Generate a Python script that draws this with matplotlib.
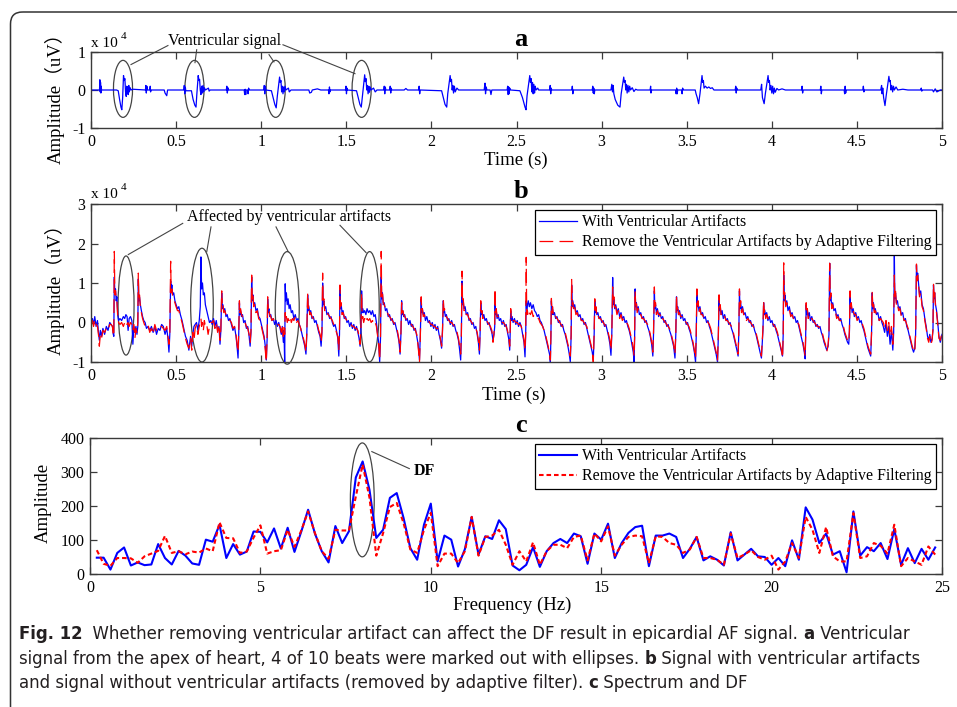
import matplotlib
matplotlib.use("Agg")
import matplotlib.pyplot as plt
from matplotlib.patches import Ellipse, FancyBboxPatch
from matplotlib import font_manager
from matplotlib.font_manager import FontProperties
import numpy as np

# ---------------------------------------------------------------- data
time_ticks = [0, 0.5, 1, 1.5, 2, 2.5, 3, 3.5, 4, 4.5, 5]
time_tick_labels = ["0", "0.5", "1", "1.5", "2", "2.5", "3", "3.5", "4", "4.5", "5"]
a_yticks = [-1, 0, 1]
a_ytick_labels = ["-1", "0", "1"]
b_yticks = [-1, 0, 1, 2, 3]
b_ytick_labels = ["-1", "0", "1", "2", "3"]
c_xticks = [0, 5, 10, 15, 20, 25]
c_yticks = [0, 100, 200, 300, 400]

# (a) ventricular signal from the apex (x 10^4 uV), polyline vertices (time s, value)
a_trace = [
    (0.000, 0.0), (0.050, 0.0), (0.052, 0.27), (0.054, -0.05), (0.056, 0.2), (0.058, -0.08), (0.060, 0.1), (0.062, 0.0),
    (0.150, 0.0), (0.160, -0.02), (0.168, -0.25), (0.176, -0.45), (0.181, -0.52), (0.186, -0.2), (0.191, 0.38),
    (0.195, 0.25), (0.199, 0.3), (0.203, -0.05), (0.207, -0.17), (0.210, 0.1), (0.213, -0.1), (0.216, 0.08),
    (0.219, -0.12), (0.222, 0.12), (0.225, -0.05), (0.230, 0.06), (0.235, 0.0), (0.245, 0.02),
    (0.320, 0.0), (0.322, 0.12), (0.325, -0.08), (0.328, 0.1), (0.332, 0.0), (0.345, 0.0), (0.348, 0.1),
    (0.350, -0.05), (0.353, 0.0), (0.430, 0.0), (0.435, -0.08), (0.445, -0.15), (0.450, 0.0),
    (0.545, 0.0), (0.548, 0.12), (0.551, -0.1), (0.554, 0.08), (0.557, -0.02), (0.590, -0.02), (0.600, -0.25),
    (0.610, -0.40), (0.617, -0.45), (0.622, -0.1), (0.630, 0.38), (0.634, 0.25), (0.638, 0.28), (0.642, 0.0),
    (0.646, -0.12), (0.650, 0.1), (0.654, -0.08), (0.658, 0.12), (0.662, -0.05), (0.666, 0.06), (0.672, 0.0),
    (0.690, 0.05), (0.694, -0.03), (0.700, 0.0), (0.795, 0.0), (0.798, 0.1), (0.801, -0.08), (0.804, 0.06),
    (0.807, 0.0), (0.900, 0.0), (0.903, -0.12), (0.906, 0.02), (0.909, -0.12), (0.912, 0.0), (0.920, 0.0),
    (0.923, -0.1), (0.926, 0.05), (0.930, 0.0), (1.015, 0.0), (1.018, 0.12), (1.021, -0.1), (1.024, 0.1),
    (1.027, 0.0), (1.060, -0.02), (1.070, -0.2), (1.080, -0.38), (1.088, -0.47), (1.095, -0.15), (1.108, 0.34),
    (1.112, 0.2), (1.116, 0.25), (1.120, -0.05), (1.124, 0.1), (1.128, -0.1), (1.132, 0.08), (1.136, -0.05),
    (1.140, 0.1), (1.145, 0.0), (1.160, 0.05), (1.165, -0.05), (1.175, 0.0), (1.280, 0.0), (1.285, -0.08),
    (1.295, -0.06), (1.300, 0.0), (1.330, 0.03), (1.350, 0.0), (1.395, 0.0), (1.398, -0.1), (1.401, 0.08),
    (1.404, -0.05), (1.407, 0.0), (1.495, 0.0), (1.498, 0.1), (1.501, -0.1), (1.504, 0.05), (1.507, 0.0),
    (1.560, -0.02), (1.570, -0.2), (1.580, -0.38), (1.588, -0.45), (1.596, -0.1), (1.608, 0.40), (1.612, 0.22),
    (1.616, 0.3), (1.620, 0.0), (1.624, 0.12), (1.628, -0.1), (1.632, 0.1), (1.636, -0.06), (1.640, 0.08),
    (1.645, 0.0), (1.660, 0.05), (1.670, -0.05), (1.680, 0.0), (1.720, 0.0), (1.723, 0.1), (1.726, -0.1),
    (1.729, 0.08), (1.732, 0.0), (1.755, 0.0), (1.758, 0.1), (1.761, -0.08), (1.764, 0.05), (1.767, 0.0),
    (1.840, 0.0), (1.850, 0.04), (1.860, 0.0), (1.925, 0.0), (1.928, 0.1), (1.931, -0.1), (1.934, 0.0),
    (2.060, -0.02), (2.070, -0.2), (2.080, -0.38), (2.090, -0.45), (2.096, -0.1), (2.110, 0.38), (2.114, 0.22),
    (2.118, 0.28), (2.122, 0.0), (2.126, 0.12), (2.130, -0.08), (2.135, 0.1), (2.140, -0.05), (2.150, 0.05),
    (2.160, 0.0), (2.310, 0.0), (2.315, 0.18), (2.318, -0.1), (2.322, 0.08), (2.326, 0.0), (2.345, 0.0),
    (2.350, -0.12), (2.355, 0.0), (2.445, 0.0), (2.448, 0.1), (2.451, -0.12), (2.454, 0.08), (2.457, -0.1),
    (2.460, 0.05), (2.465, 0.0), (2.520, -0.02), (2.535, -0.2), (2.550, -0.45), (2.556, -0.52), (2.562, -0.15),
    (2.578, 0.38), (2.582, 0.2), (2.586, 0.3), (2.590, -0.05), (2.594, 0.2), (2.598, -0.1), (2.602, 0.15),
    (2.606, -0.08), (2.610, 0.1), (2.615, 0.0), (2.625, 0.05), (2.630, 0.0), (2.695, 0.0), (2.698, 0.12),
    (2.701, -0.1), (2.704, 0.05), (2.707, 0.0), (2.825, 0.0), (2.828, 0.1), (2.831, -0.1), (2.834, 0.0),
    (2.945, 0.0), (2.948, 0.1), (2.951, -0.08), (2.954, 0.05), (2.957, -0.1), (2.960, 0.0), (3.055, 0.0),
    (3.060, 0.15), (3.064, -0.05), (3.068, 0.12), (3.072, -0.1), (3.080, -0.25), (3.095, -0.4), (3.108, -0.45),
    (3.115, -0.1), (3.130, 0.34), (3.134, 0.2), (3.138, 0.25), (3.142, 0.0), (3.146, 0.15), (3.150, -0.08),
    (3.155, 0.12), (3.160, -0.05), (3.165, 0.1), (3.170, 0.0), (3.180, 0.06), (3.190, -0.04), (3.200, 0.02),
    (3.210, 0.0), (3.285, 0.0), (3.288, 0.1), (3.290, -0.08), (3.294, 0.0), (3.435, 0.0), (3.438, -0.1),
    (3.441, 0.05), (3.444, -0.1), (3.447, 0.0), (3.470, 0.0), (3.473, -0.1), (3.476, 0.05), (3.480, 0.0),
    (3.550, 0.0), (3.555, -0.1), (3.562, -0.2), (3.570, -0.36), (3.578, -0.1), (3.590, 0.38), (3.594, 0.2),
    (3.598, 0.25), (3.602, 0.05), (3.610, 0.1), (3.620, 0.05), (3.630, 0.08), (3.640, 0.04), (3.650, 0.06),
    (3.660, 0.0), (3.700, 0.0), (3.785, 0.0), (3.788, 0.1), (3.791, -0.08), (3.794, 0.05), (3.797, 0.0),
    (3.935, 0.0), (3.940, 0.15), (3.945, -0.2), (3.955, -0.36), (3.962, -0.1), (3.978, 0.38), (3.982, 0.2),
    (3.986, 0.25), (3.990, 0.0), (3.995, 0.12), (4.000, -0.08), (4.005, 0.1), (4.010, -0.1), (4.015, 0.05),
    (4.020, -0.06), (4.030, 0.04), (4.040, 0.0), (4.060, 0.03), (4.080, 0.0), (4.175, 0.0), (4.178, 0.1),
    (4.181, -0.08), (4.184, 0.0), (4.285, 0.0), (4.288, 0.1), (4.291, -0.1), (4.294, 0.0), (4.425, 0.0),
    (4.428, -0.1), (4.431, 0.1), (4.434, -0.08), (4.437, 0.0), (4.535, 0.0), (4.538, 0.1), (4.541, -0.05),
    (4.544, 0.0), (4.640, 0.0), (4.645, 0.12), (4.648, -0.1), (4.652, 0.05), (4.657, -0.2), (4.665, -0.41),
    (4.672, -0.15), (4.688, 0.36), (4.692, 0.22), (4.696, 0.25), (4.700, 0.0), (4.705, 0.12), (4.710, -0.05),
    (4.715, 0.1), (4.720, 0.0), (4.730, 0.08), (4.740, 0.0), (4.770, 0.02), (4.800, 0.0), (4.875, 0.0),
    (4.878, 0.05), (4.881, -0.03), (4.885, 0.0), (4.945, 0.0), (4.950, -0.05), (4.960, 0.03), (4.970, -0.05),
    (4.990, 0.0), (5.000, 0.0),
]

# (b) sample times (s) shared by both traces, one line per activation
b_time = [
    0.000, 0.008, 0.015, 0.022, 0.030, 0.038, 0.045, 0.049, 0.055, 0.062, 0.070, 0.080, 0.090, 0.100, 0.110, 0.118, 0.126, 0.131,
    0.134, 0.137, 0.140, 0.144, 0.148, 0.152, 0.157, 0.162,
    0.170, 0.180, 0.190, 0.198, 0.205, 0.212, 0.218, 0.224, 0.232, 0.240, 0.246, 0.252, 0.258, 0.264, 0.270, 0.275,
    0.278, 0.281, 0.285, 0.290, 0.296, 0.303, 0.310, 0.318, 0.326, 0.335, 0.345, 0.355, 0.365, 0.375, 0.385, 0.395, 0.405, 0.415, 0.425, 0.435, 0.445, 0.452, 0.458, 0.463,
    0.468, 0.471, 0.475, 0.480, 0.486, 0.493, 0.500, 0.508, 0.516, 0.525, 0.535, 0.545, 0.555, 0.565, 0.575, 0.585, 0.592,
    0.598, 0.605, 0.612, 0.620, 0.628, 0.636, 0.642, 0.646, 0.650, 0.655, 0.660, 0.666, 0.672, 0.680, 0.688, 0.696, 0.704,
    0.712, 0.720, 0.728, 0.736, 0.744, 0.752, 0.758, 0.763,
    0.768, 0.771, 0.775, 0.780, 0.786, 0.793, 0.800, 0.808, 0.816, 0.825, 0.834, 0.843, 0.852, 0.858, 0.864, 0.868,
    0.872, 0.875, 0.879, 0.884, 0.890, 0.897, 0.905, 0.913, 0.921, 0.929, 0.935, 0.940,
    0.944, 0.947, 0.951, 0.956, 0.962, 0.969, 0.977, 0.985, 0.993, 1.001, 1.009, 1.017, 1.024, 1.030, 1.035,
    1.038, 1.041, 1.045, 1.050, 1.056, 1.063, 1.071, 1.079, 1.087, 1.095, 1.103, 1.111, 1.118, 1.124, 1.130, 1.134,
    1.138, 1.141, 1.144, 1.148, 1.153, 1.158, 1.164, 1.170, 1.177, 1.184, 1.192, 1.200, 1.208, 1.216, 1.224, 1.232, 1.240, 1.248, 1.256, 1.263, 1.268,
    1.273, 1.276, 1.280, 1.285, 1.291, 1.298, 1.306, 1.314, 1.322, 1.330, 1.338, 1.346, 1.352, 1.357,
    1.361, 1.364, 1.368, 1.373, 1.379, 1.386, 1.394, 1.402, 1.410, 1.418, 1.426, 1.434, 1.442, 1.450, 1.456, 1.460,
    1.463, 1.466, 1.470, 1.475, 1.481, 1.488, 1.496, 1.504, 1.512, 1.520, 1.528, 1.536, 1.544, 1.552, 1.560, 1.568, 1.575, 1.581, 1.586,
    1.590, 1.593, 1.597, 1.602, 1.608, 1.615, 1.622, 1.630, 1.638, 1.646, 1.654, 1.662, 1.670, 1.677, 1.684, 1.690, 1.696, 1.701,
    1.705, 1.708, 1.712, 1.717, 1.723, 1.730, 1.738, 1.746, 1.754, 1.762, 1.770, 1.778, 1.786, 1.794, 1.802, 1.810, 1.816, 1.821,
    1.825, 1.828, 1.832, 1.837, 1.843, 1.850, 1.858, 1.866, 1.874, 1.882, 1.890, 1.898, 1.906, 1.914, 1.922, 1.930, 1.935,
    1.940, 1.943, 1.947, 1.952, 1.958, 1.965, 1.973, 1.981, 1.989, 1.997, 2.005, 2.013, 2.021, 2.029, 2.037, 2.045, 2.053, 2.060, 2.065,
    2.070, 2.073, 2.077, 2.082, 2.088, 2.095, 2.103, 2.111, 2.119, 2.127, 2.135, 2.143, 2.151, 2.159, 2.166, 2.172, 2.176,
    2.180, 2.183, 2.187, 2.192, 2.198, 2.205, 2.213, 2.221, 2.229, 2.237, 2.245, 2.253, 2.261, 2.269, 2.276, 2.282, 2.286,
    2.290, 2.293, 2.297, 2.302, 2.308, 2.315, 2.323, 2.331, 2.339, 2.347, 2.355, 2.362, 2.368, 2.372,
    2.374, 2.377, 2.381, 2.386, 2.392, 2.399, 2.407, 2.415, 2.423, 2.431, 2.439, 2.447, 2.454, 2.460, 2.463,
    2.466, 2.469, 2.474, 2.480, 2.488, 2.496, 2.504, 2.512, 2.520, 2.528, 2.536, 2.544, 2.550, 2.554,
    2.557, 2.560, 2.564, 2.569, 2.575, 2.582, 2.590, 2.598, 2.606, 2.614, 2.622, 2.630, 2.638, 2.646, 2.654, 2.662, 2.670, 2.678, 2.686, 2.694, 2.699, 2.702,
    2.705, 2.708, 2.712, 2.717, 2.723, 2.730, 2.738, 2.746, 2.754, 2.762, 2.770, 2.778, 2.786, 2.794, 2.802, 2.810, 2.816, 2.821,
    2.824, 2.827, 2.831, 2.836, 2.842, 2.849, 2.857, 2.865, 2.873, 2.881, 2.889, 2.897, 2.905, 2.913, 2.921, 2.929, 2.937, 2.945, 2.951, 2.956,
    2.960, 2.963, 2.967, 2.972, 2.978, 2.985, 2.993, 3.001, 3.009, 3.017, 3.025, 3.033, 3.041, 3.049, 3.055, 3.060,
    3.065, 3.068, 3.072, 3.077, 3.083, 3.090, 3.098, 3.106, 3.114, 3.122, 3.130, 3.138, 3.146, 3.154, 3.162, 3.170, 3.178, 3.186, 3.191, 3.194,
    3.197, 3.200, 3.204, 3.209, 3.215, 3.222, 3.230, 3.238, 3.246, 3.254, 3.262, 3.270, 3.278, 3.286, 3.294, 3.301, 3.305,
    3.310, 3.313, 3.317, 3.322, 3.328, 3.335, 3.343, 3.351, 3.359, 3.367, 3.375, 3.383, 3.391, 3.399, 3.407, 3.415, 3.423, 3.431, 3.436,
    3.440, 3.443, 3.447, 3.452, 3.458, 3.465, 3.473, 3.481, 3.489, 3.497, 3.505, 3.513, 3.521, 3.529, 3.537, 3.545, 3.552, 3.556,
    3.560, 3.563, 3.567, 3.572, 3.578, 3.585, 3.593, 3.601, 3.609, 3.617, 3.625, 3.633, 3.641, 3.649, 3.657, 3.665, 3.673, 3.681, 3.686,
    3.690, 3.693, 3.697, 3.702, 3.708, 3.715, 3.723, 3.731, 3.739, 3.747, 3.755, 3.763, 3.771, 3.779, 3.787, 3.795, 3.802, 3.806,
    3.810, 3.813, 3.817, 3.822, 3.828, 3.835, 3.843, 3.851, 3.859, 3.867, 3.875, 3.883, 3.891, 3.899, 3.907, 3.915, 3.923, 3.931, 3.939, 3.945, 3.948,
    3.952, 3.955, 3.959, 3.964, 3.970, 3.977, 3.985, 3.993, 4.001, 4.009, 4.017, 4.025, 4.033, 4.041, 4.049, 4.057, 4.063, 4.067,
    4.070, 4.073, 4.077, 4.082, 4.088, 4.095, 4.103, 4.111, 4.119, 4.127, 4.135, 4.143, 4.151, 4.159, 4.167, 4.175, 4.183, 4.191, 4.196, 4.199,
    4.202, 4.205, 4.209, 4.214, 4.220, 4.227, 4.235, 4.243, 4.251, 4.259, 4.267, 4.275, 4.283, 4.291, 4.299, 4.307, 4.315, 4.323, 4.331, 4.336,
    4.340, 4.343, 4.347, 4.352, 4.358, 4.365, 4.373, 4.381, 4.389, 4.397, 4.405, 4.413, 4.421, 4.429, 4.437, 4.445, 4.452, 4.456,
    4.460, 4.463, 4.467, 4.472, 4.478, 4.485, 4.493, 4.501, 4.509, 4.517, 4.525, 4.533, 4.541, 4.549, 4.557, 4.565, 4.573, 4.581, 4.586,
    4.590, 4.593, 4.597, 4.602, 4.608, 4.615, 4.623, 4.631, 4.639, 4.647, 4.655, 4.663, 4.671, 4.679, 4.687, 4.695, 4.703, 4.711, 4.716,
    4.720, 4.723, 4.727, 4.732, 4.738, 4.745, 4.753, 4.761, 4.769, 4.777, 4.785, 4.793, 4.801, 4.809, 4.817, 4.825, 4.833, 4.840, 4.845,
    4.850, 4.853, 4.857, 4.862, 4.868, 4.875, 4.883, 4.891, 4.899, 4.907, 4.915, 4.922, 4.928, 4.935, 4.942, 4.947,
    4.950, 4.953, 4.957, 4.962, 4.968, 4.975, 4.982, 4.990, 5.000,
]

# (b) signal with ventricular artifacts (x 10^4 uV)
b_with = [
    -0.05, 0.10, -0.05, 0.15, -0.10, 0.05, -0.30, -0.45, -0.20, -0.35, -0.15, -0.30, -0.10, -0.20, 0.00, -0.05, -0.10, -0.30,
    -0.35, 1.15, 0.75, 0.85, 0.55, 0.65, 0.20, 0.05,
    0.10, 0.05, 0.15, 0.10, 0.20, 0.15, -0.20, 0.10, 0.15, 0.05, -0.55, -0.10, -0.25, -0.10, -0.30, -0.10,
    1.10, 0.55, 0.65, 0.45, 0.30, 0.15, 0.05, 0.00, -0.15, -0.10, -0.20, -0.10, -0.25, -0.10, -0.30, -0.15, -0.20, -0.05, -0.10, -0.30, -0.15, -0.40, -0.75, -0.30,
    1.05, 0.80, 0.95, 0.70, 0.75, 0.55, 0.45, 0.35, 0.40, 0.20, 0.05, -0.15, -0.35, -0.45, -0.70, -0.35, -0.60,
    -0.30, -0.10, -0.05, 0.00, -0.20, 0.05, 0.40, 1.66, 0.85, 1.00, 0.70, 0.75, 0.45, 0.30, 0.15, 0.00, 0.05,
    -0.05, 0.10, -0.10, 0.05, -0.20, -0.10, -0.55, -0.20,
    0.75, 0.35, 0.45, 0.30, 0.35, 0.15, 0.20, 0.05, 0.10, -0.05, -0.20, -0.10, -0.35, -0.60, -0.90, -0.30,
    0.50, 0.20, 0.30, 0.15, 0.20, 0.00, 0.05, -0.15, -0.10, -0.35, -0.60, -0.25,
    1.15, 0.55, 0.70, 0.45, 0.50, 0.30, 0.35, 0.15, 0.10, -0.05, -0.20, -0.35, -0.60, -0.95, -0.40,
    0.60, 0.25, 0.35, 0.15, 0.20, 0.05, 0.10, -0.05, 0.05, -0.10, 0.00, -0.15, -0.30, -0.10, -0.50, -0.20,
    -1.05, 0.98, 0.55, 0.75, 0.45, 0.60, 0.35, 0.45, 0.25, 0.30, 0.10, 0.20, 0.05, 0.10, -0.05, -0.15, -0.30, -0.45, -0.60, -0.80, -0.30,
    0.70, 0.30, 0.40, 0.25, 0.30, 0.10, 0.15, 0.00, 0.05, -0.10, -0.25, -0.35, -0.60, -0.25,
    1.00, 0.45, 0.55, 0.35, 0.40, 0.20, 0.25, 0.10, 0.15, 0.00, -0.10, -0.05, -0.20, -0.40, -0.85, -0.30,
    0.90, 0.35, 0.45, 0.25, 0.30, 0.10, 0.15, 0.00, 0.05, -0.10, 0.00, -0.15, -0.05, -0.20, -0.10, -0.25, -0.40, -0.60, -0.20,
    0.80, 0.25, 0.35, 0.25, 0.30, 0.20, 0.35, 0.25, 0.30, 0.20, 0.30, 0.15, 0.20, 0.00, -0.30, -0.50, -1.00, -0.40,
    1.15, 0.60, 0.75, 0.45, 0.50, 0.30, 0.35, 0.15, 0.20, 0.05, 0.10, -0.05, 0.00, -0.15, -0.30, -0.50, -0.80, -0.30,
    0.55, 0.20, 0.30, 0.15, 0.20, 0.05, 0.10, -0.05, 0.05, -0.10, -0.05, -0.20, -0.15, -0.35, -0.55, -0.95, -0.30,
    0.60, 0.25, 0.35, 0.20, 0.25, 0.05, 0.15, 0.00, 0.05, -0.10, 0.00, -0.15, -0.05, -0.20, -0.10, -0.30, -0.45, -0.65, -0.25,
    0.55, 0.25, 0.30, 0.15, 0.20, 0.05, 0.10, -0.05, 0.05, -0.10, -0.05, -0.20, -0.30, -0.45, -0.70, -0.95, -0.35,
    1.05, 0.45, 0.55, 0.35, 0.40, 0.20, 0.25, 0.05, 0.10, -0.05, 0.00, -0.15, -0.10, -0.30, -0.50, -0.80, -0.30,
    0.50, 0.20, 0.30, 0.15, 0.20, 0.05, 0.10, -0.05, 0.00, -0.15, -0.25, -0.45, -0.30, -0.10,
    0.60, 0.20, 0.30, 0.10, 0.20, 0.05, 0.10, -0.05, 0.05, -0.10, -0.05, -0.25, -0.40, -0.70, -0.25,
    0.30, 0.05, 0.15, 0.00, 0.10, -0.05, 0.05, -0.10, 0.00, -0.10, -0.30, -0.50, -0.87, -0.30,
    0.55, 0.30, 0.45, 0.55, 0.40, 0.50, 0.35, 0.45, 0.30, 0.25, 0.15, 0.20, 0.05, 0.00, -0.10, -0.20, -0.35, -0.50, -0.65, -0.80, -1.00, -0.40,
    0.55, 0.20, 0.35, 0.20, 0.25, 0.10, 0.15, 0.00, 0.05, -0.10, -0.05, -0.20, -0.30, -0.45, -0.60, -0.80, -1.00, -0.35,
    0.95, 0.40, 0.55, 0.35, 0.45, 0.25, 0.30, 0.15, 0.20, 0.05, 0.10, -0.05, 0.00, -0.15, -0.30, -0.45, -0.60, -0.75, -0.95, -0.35,
    0.55, 0.25, 0.35, 0.20, 0.25, 0.10, 0.15, 0.00, 0.05, -0.10, -0.05, -0.20, -0.35, -0.55, -0.83, -0.30,
    1.14, 0.45, 0.60, 0.35, 0.45, 0.25, 0.35, 0.15, 0.25, 0.10, 0.15, 0.00, 0.05, -0.10, -0.20, -0.35, -0.55, -0.75, -1.00, -0.40,
    0.85, 0.40, 0.50, 0.30, 0.40, 0.20, 0.25, 0.10, 0.15, 0.00, 0.05, -0.10, -0.20, -0.35, -0.55, -0.85, -0.30,
    0.80, 0.35, 0.45, 0.25, 0.35, 0.15, 0.25, 0.10, 0.15, 0.00, 0.05, -0.10, -0.05, -0.20, -0.30, -0.45, -0.60, -0.90, -0.30,
    0.65, 0.30, 0.40, 0.20, 0.30, 0.10, 0.20, 0.05, 0.10, -0.05, 0.00, -0.15, -0.25, -0.40, -0.55, -0.75, -1.00, -0.35,
    0.80, 0.40, 0.50, 0.30, 0.40, 0.20, 0.25, 0.10, 0.15, 0.00, 0.05, -0.10, -0.20, -0.35, -0.50, -0.65, -0.80, -1.00, -0.35,
    0.60, 0.30, 0.40, 0.20, 0.30, 0.10, 0.20, 0.05, 0.10, -0.05, 0.00, -0.15, -0.25, -0.40, -0.55, -0.70, -0.85, -0.30,
    0.80, 0.35, 0.50, 0.30, 0.40, 0.20, 0.25, 0.10, 0.15, 0.00, 0.05, -0.10, -0.05, -0.20, -0.30, -0.45, -0.60, -0.75, -0.90, -0.40, -0.20,
    0.50, 0.20, 0.30, 0.15, 0.25, 0.05, 0.15, 0.00, 0.05, -0.10, -0.05, -0.20, -0.30, -0.45, -0.60, -0.75, -0.85, -0.30,
    1.20, 0.55, 0.70, 0.45, 0.55, 0.30, 0.40, 0.20, 0.25, 0.10, 0.15, 0.00, 0.05, -0.10, -0.25, -0.40, -0.55, -0.75, -0.92, -0.35,
    0.45, 0.20, 0.30, 0.15, 0.25, 0.05, 0.15, 0.00, 0.05, -0.10, -0.05, -0.15, -0.10, -0.25, -0.35, -0.50, -0.60, -0.70, -0.60, -0.30,
    1.50, 0.55, 0.70, 0.40, 0.50, 0.30, 0.35, 0.15, 0.20, 0.05, 0.10, -0.05, -0.15, -0.30, -0.40, -0.50, -0.55, -0.25,
    0.70, 0.35, 0.45, 0.25, 0.35, 0.15, 0.25, 0.10, 0.15, 0.00, 0.05, -0.10, -0.20, -0.35, -0.50, -0.65, -0.75, -0.85, -0.30,
    0.75, 0.35, 0.50, 0.30, 0.35, 0.20, 0.25, 0.05, 0.15, 0.00, -0.10, -0.25, 0.00, -0.35, -0.10, -0.55, -0.20, -0.70, -0.25,
    1.71, 0.60, 0.75, 0.50, 0.55, 0.35, 0.40, 0.20, 0.25, 0.05, 0.10, -0.10, -0.20, -0.35, -0.50, -0.65, -0.75, -0.65, -0.30,
    1.45, 1.10, 1.25, 1.00, 0.70, 0.80, 0.45, 0.35, 0.10, -0.10, -0.35, -0.45, -0.30, -0.50, -0.40, -0.20,
    0.95, 0.60, 0.75, 0.45, 0.30, 0.00, -0.35, -0.50, -0.30,
]

# (b) signal after adaptive filtering removed the ventricular artifacts (x 10^4 uV)
b_removed = [
    0.00, 0.05, -0.10, 0.08, -0.05, -0.10, -0.35, -0.60, -0.30, -0.40, -0.20, -0.25, -0.15, -0.20, -0.05, -0.05, -0.10, -0.35,
    -0.30, 1.80, 0.70, 0.80, 0.60, 0.55, 0.15, 0.00,
    -0.05, 0.00, -0.10, 0.00, 0.05, -0.05, 0.00, -0.10, 0.00, -0.05, -0.20, -0.05, -0.40, -0.15, -0.25, 0.00,
    1.25, 0.60, 0.70, 0.40, 0.25, 0.10, 0.00, -0.10, -0.10, -0.05, -0.25, -0.15, -0.30, -0.05, -0.20, -0.20, -0.10, -0.10, -0.15, -0.20, -0.10, -0.35, -0.55, -0.25,
    1.55, 0.75, 0.85, 0.65, 0.60, 0.50, 0.40, 0.30, 0.30, 0.15, 0.00, -0.20, -0.40, -0.55, -0.65, -0.40, -0.70,
    -0.25, -0.45, -0.15, -0.05, -0.30, -0.10, 0.00, 0.10, -0.10, 0.00, -0.20, 0.05, -0.10, -0.05, -0.30, -0.10, 0.00,
    0.00, 0.05, -0.15, 0.00, -0.25, -0.05, -0.45, -0.15,
    0.80, 0.40, 0.45, 0.25, 0.30, 0.20, 0.15, 0.10, 0.05, 0.00, -0.15, -0.10, -0.30, -0.55, -0.75, -0.25,
    0.55, 0.25, 0.35, 0.20, 0.15, 0.05, 0.00, -0.10, -0.15, -0.30, -0.50, -0.20,
    1.20, 0.60, 0.75, 0.40, 0.45, 0.25, 0.30, 0.10, 0.05, -0.10, -0.25, -0.40, -0.70, -1.00, -0.35,
    0.65, 0.30, 0.35, 0.20, 0.15, 0.05, 0.10, 0.00, 0.00, -0.05, -0.05, -0.10, -0.25, -0.05, -0.35, -0.10,
    -0.30, 0.25, 0.05, 0.15, 0.00, 0.10, 0.05, 0.15, 0.00, 0.10, 0.05, 0.15, 0.00, 0.05, -0.05, -0.15, -0.30, -0.40, -0.55, -0.75, -0.25,
    0.75, 0.35, 0.45, 0.20, 0.25, 0.15, 0.10, 0.05, 0.00, -0.05, -0.20, -0.30, -0.50, -0.20,
    1.25, 0.50, 0.60, 0.30, 0.35, 0.25, 0.20, 0.15, 0.10, 0.05, -0.05, -0.10, -0.25, -0.35, -0.70, -0.25,
    0.95, 0.40, 0.50, 0.20, 0.25, 0.15, 0.10, 0.05, 0.00, -0.05, -0.05, -0.10, -0.10, -0.15, -0.15, -0.20, -0.35, -0.55, -0.15,
    0.75, 0.10, 0.15, 0.00, 0.10, 0.00, 0.10, 0.05, 0.10, 0.00, 0.05, -0.05, 0.00, -0.10, -0.35, -0.55, -0.95, -0.35,
    1.80, 0.65, 0.80, 0.50, 0.45, 0.35, 0.30, 0.20, 0.15, 0.10, 0.05, 0.00, -0.05, -0.10, -0.25, -0.45, -0.75, -0.25,
    0.50, 0.25, 0.30, 0.20, 0.15, 0.10, 0.05, 0.00, 0.00, -0.05, -0.10, -0.15, -0.20, -0.30, -0.60, -1.00, -0.35,
    0.65, 0.30, 0.35, 0.15, 0.20, 0.10, 0.10, 0.05, 0.00, -0.05, -0.05, -0.10, -0.10, -0.15, -0.15, -0.25, -0.40, -0.60, -0.20,
    0.60, 0.30, 0.35, 0.20, 0.15, 0.10, 0.05, 0.00, 0.00, -0.05, -0.10, -0.15, -0.25, -0.40, -0.60, -0.80, -0.30,
    1.30, 0.50, 0.60, 0.30, 0.35, 0.20, 0.20, 0.10, 0.05, 0.00, -0.05, -0.10, -0.15, -0.25, -0.45, -0.70, -0.25,
    0.55, 0.25, 0.30, 0.10, 0.15, 0.10, 0.05, 0.00, -0.05, -0.10, -0.20, -0.50, -0.25, -0.05,
    0.86, 0.25, 0.35, 0.15, 0.15, 0.10, 0.05, 0.00, 0.00, -0.05, -0.10, -0.20, -0.35, -0.60, -0.20,
    0.35, 0.10, 0.15, 0.05, 0.05, 0.00, 0.00, -0.05, -0.05, -0.10, -0.25, -0.45, -0.70, -0.25,
    1.65, 0.20, 0.30, 0.15, 0.25, 0.20, 0.30, 0.15, 0.20, 0.15, 0.10, 0.10, 0.00, -0.05, -0.10, -0.20, -0.30, -0.45, -0.60, -0.80, -0.95, -0.35,
    0.61, 0.25, 0.40, 0.15, 0.20, 0.15, 0.10, 0.05, 0.00, -0.05, -0.10, -0.15, -0.25, -0.40, -0.55, -0.70, -0.85, -0.30,
    1.09, 0.45, 0.50, 0.30, 0.40, 0.20, 0.25, 0.10, 0.15, 0.05, 0.05, 0.00, -0.05, -0.10, -0.25, -0.40, -0.55, -0.70, -1.00, -0.30,
    0.60, 0.30, 0.40, 0.15, 0.20, 0.10, 0.10, 0.05, 0.00, -0.05, -0.10, -0.15, -0.30, -0.45, -0.70, -0.25,
    0.90, 0.50, 0.65, 0.30, 0.40, 0.20, 0.30, 0.10, 0.20, 0.05, 0.10, 0.00, 0.00, -0.05, -0.15, -0.30, -0.45, -0.65, -0.85, -0.35,
    0.80, 0.45, 0.55, 0.25, 0.35, 0.20, 0.20, 0.10, 0.10, 0.05, 0.00, -0.05, -0.15, -0.30, -0.50, -0.75, -0.25,
    0.90, 0.40, 0.50, 0.20, 0.30, 0.20, 0.20, 0.05, 0.10, 0.05, 0.00, -0.05, -0.10, -0.15, -0.25, -0.40, -0.55, -0.80, -0.25,
    0.70, 0.35, 0.45, 0.20, 0.25, 0.15, 0.15, 0.05, 0.05, 0.00, -0.05, -0.10, -0.20, -0.35, -0.50, -0.70, -0.90, -0.30,
    0.85, 0.45, 0.55, 0.25, 0.35, 0.20, 0.20, 0.10, 0.10, 0.05, 0.00, -0.05, -0.15, -0.30, -0.45, -0.60, -0.75, -0.95, -0.30,
    0.70, 0.35, 0.45, 0.20, 0.25, 0.15, 0.15, 0.05, 0.05, 0.00, -0.05, -0.10, -0.20, -0.35, -0.50, -0.65, -0.80, -0.25,
    0.85, 0.40, 0.55, 0.25, 0.35, 0.20, 0.20, 0.05, 0.10, 0.05, 0.00, -0.05, -0.10, -0.15, -0.25, -0.40, -0.55, -0.70, -0.85, -0.35, -0.15,
    0.55, 0.25, 0.35, 0.10, 0.20, 0.10, 0.10, 0.05, 0.00, -0.05, -0.10, -0.15, -0.25, -0.40, -0.55, -0.70, -0.90, -0.35,
    1.51, 0.60, 0.75, 0.40, 0.50, 0.35, 0.35, 0.15, 0.20, 0.10, 0.10, 0.05, 0.00, -0.05, -0.20, -0.35, -0.50, -0.70, -0.85, -0.30,
    0.50, 0.25, 0.35, 0.10, 0.20, 0.10, 0.10, 0.05, 0.00, -0.05, -0.10, -0.10, -0.15, -0.20, -0.30, -0.45, -0.55, -0.75, -0.55, -0.25,
    1.50, 0.60, 0.75, 0.35, 0.45, 0.30, 0.30, 0.10, 0.15, 0.05, 0.05, 0.00, -0.10, -0.25, -0.35, -0.45, -0.50, -0.20,
    0.80, 0.40, 0.50, 0.25, 0.30, 0.20, 0.20, 0.05, 0.10, 0.05, 0.00, -0.05, -0.15, -0.30, -0.45, -0.60, -0.70, -0.80, -0.25,
    0.80, 0.40, 0.55, 0.25, 0.30, 0.20, 0.20, 0.05, 0.10, 0.05, 0.00, -0.15, 0.05, -0.20, 0.00, -0.35, -0.10, -0.55, -0.15,
    1.20, 0.65, 0.80, 0.45, 0.50, 0.30, 0.35, 0.15, 0.20, 0.05, 0.05, -0.05, -0.15, -0.30, -0.45, -0.60, -0.70, -0.75, -0.30,
    1.48, 1.05, 1.20, 0.95, 0.65, 0.75, 0.40, 0.30, 0.05, -0.15, -0.40, -0.50, -0.35, -0.55, -0.45, -0.15,
    0.99, 0.65, 0.80, 0.40, 0.25, -0.05, -0.40, -0.45, -0.25,
]

# (c) spectrum, 0.2 Hz bins from 0.2 to 24.8 Hz
freq_bins = np.round(np.arange(1, 125) * 0.2, 1)
c_with = [
    48, 48, 13, 62, 78, 25, 34, 26, 28, 88, 47, 28, 68, 54, 31, 27, 101, 95, 145, 47,
    88, 57, 66, 125, 124, 93, 134, 75, 136, 65, 125, 189, 119, 67, 34, 141, 91, 126, 284, 331,
    248, 106, 130, 224, 238, 165, 76, 42, 145, 207, 37, 113, 101, 22, 73, 168, 57, 111, 103, 158,
    132, 25, 11, 27, 79, 21, 67, 91, 103, 91, 119, 111, 30, 119, 101, 148, 47, 91, 121, 138,
    142, 23, 113, 113, 119, 109, 47, 74, 109, 40, 52, 42, 25, 123, 40, 57, 74, 52, 50, 27,
    47, 23, 99, 42, 196, 160, 91, 119, 57, 67, 5, 184, 54, 79, 67, 91, 44, 132, 27, 76,
    32, 74, 42, 78,
]
c_removed = [
    70, 30, 24, 47, 47, 46, 33, 52, 60, 68, 112, 62, 67, 58, 66, 63, 75, 67, 152, 106,
    105, 62, 66, 107, 143, 60, 67, 70, 130, 80, 128, 184, 120, 67, 45, 130, 128, 128, 228, 322,
    225, 54, 120, 197, 209, 150, 72, 62, 130, 180, 23, 60, 60, 32, 67, 168, 54, 109, 113, 130,
    86, 27, 67, 37, 93, 27, 67, 86, 86, 76, 109, 113, 40, 119, 96, 140, 54, 86, 109, 113,
    111, 32, 111, 109, 91, 86, 62, 72, 109, 47, 47, 42, 27, 119, 47, 57, 70, 50, 42, 54,
    13, 37, 91, 47, 168, 130, 62, 138, 52, 37, 37, 179, 47, 52, 91, 83, 60, 145, 23, 47,
    37, 27, 81, 57,
]

label_with = "With Ventricular Artifacts"
label_removed = "Remove the Ventricular Artifacts by Adaptive Filtering"

# ---------------------------------------------------------------- style
SERIF = ["Liberation Serif", "DejaVu Serif"]
SERIF_CJK = ["Liberation Serif", "Noto Sans CJK SC", "DejaVu Serif"]
plt.rcParams["font.family"] = SERIF
BLUE = "#0000ff"
RED = "#ff0000"

W, H = 957, 707
fig = plt.figure(figsize=(W / 100, H / 100), dpi=100)
fig.patch.set_facecolor("white")


def px_axes(left, top, right, bottom):
    return fig.add_axes([left / W, 1 - bottom / H, (right - left) / W, (bottom - top) / H])


def ftext(x, y, s, **kw):
    return fig.text(x / W, 1 - y / H, s, **kw)


def style_axes(ax):
    for sp in ax.spines.values():
        sp.set_color("#3a3a3a")
        sp.set_linewidth(1.0)
    ax.tick_params(direction="in", length=5, width=0.9, color="#3a3a3a",
                   top=True, right=True, labelsize=11.5, pad=4, labelcolor="black")


def add_legend(ax):
    leg = ax.legend(loc="upper right", fontsize=11.4, frameon=True, fancybox=False,
                    edgecolor="black", framealpha=1, borderaxespad=0.35, handlelength=2.4,
                    handletextpad=0.3, labelspacing=0.25, borderpad=0.3)
    leg.get_frame().set_linewidth(0.9)
    return leg


# ---------------------------------------------------------------- panel a
ax_a = px_axes(91, 52, 942, 128)
a_time = [p[0] for p in a_trace]
a_amp = [p[1] for p in a_trace]
ax_a.plot(a_time, a_amp, color=BLUE, lw=0.9)
ax_a.set_xlim(0, 5)
ax_a.set_ylim(-1, 1)
ax_a.set_xticks(time_ticks, time_tick_labels)
ax_a.set_yticks(a_yticks, a_ytick_labels)
style_axes(ax_a)

for cx in [0.188, 0.608, 1.085, 1.59]:
    ax_a.add_patch(Ellipse((cx, 0.03), 0.112, 1.5, fill=False, ec="#444444", lw=0.9, clip_on=False))
for (x1, y1), (x2, y2) in [((0.452, 1.17), (0.235, 0.67)), ((0.621, 1.06), (0.611, 0.72)),
                           ((1.046, 0.93), (1.075, 0.74)), ((1.128, 1.19), (1.551, 0.43))]:
    ax_a.plot([x1, x2], [y1, y2], color="#444444", lw=0.8, clip_on=False)
ax_a.text(0.787, 1.28, "Ventricular signal", ha="center", va="center", fontsize=11.5, clip_on=False)

ftext(91, 47, "x 10", fontsize=11, ha="left", va="baseline")
ftext(121, 39, "4", fontsize=8, ha="left", va="baseline")
ftext(521, 40, "a", fontsize=19, fontweight="bold", ha="center", va="center")
ftext(55, 94, "Amplitude（uV）", family=SERIF_CJK, fontsize=13.5, rotation=90, ha="center", va="center")
ftext(516, 160, "Time (s)", fontsize=13.5, ha="center", va="center")

# ---------------------------------------------------------------- panel b
ax_b = px_axes(91, 204, 942, 362)
ax_b.plot(b_time, b_with, color=BLUE, lw=0.9, label=label_with)
ax_b.plot(b_time, b_removed, color=RED, lw=0.9, dashes=(11, 5), label=label_removed)
ax_b.set_xlim(0, 5)
ax_b.set_ylim(-1, 3)
ax_b.set_xticks(time_ticks, time_tick_labels)
ax_b.set_yticks(b_yticks, b_ytick_labels)
style_axes(ax_b)

for cx, cy, w, h in [(0.206, 0.43, 0.094, 2.51), (0.652, 0.44, 0.133, 2.88),
                     (1.153, 0.37, 0.141, 2.85), (1.637, 0.40, 0.113, 2.79)]:
    ax_b.add_patch(Ellipse((cx, cy), w, h, fill=False, ec="#444444", lw=0.9, clip_on=False))
for (x1, y1), (x2, y2) in [((0.539, 2.51), (0.219, 1.72)), ((0.705, 2.42), (0.680, 1.79)),
                           ((1.087, 2.42), (1.159, 1.79)), ((1.463, 2.46), (1.616, 1.77))]:
    ax_b.plot([x1, x2], [y1, y2], color="#444444", lw=0.8, clip_on=False)
ax_b.text(1.163, 2.68, "Affected by ventricular artifacts", ha="center", va="center", fontsize=11.5)
add_legend(ax_b)

ftext(91, 198, "x 10", fontsize=11, ha="left", va="baseline")
ftext(121, 190, "4", fontsize=8, ha="left", va="baseline")
ftext(521, 192, "b", fontsize=19, fontweight="bold", ha="center", va="center")
ftext(55, 285, "Amplitude（uV）", family=SERIF_CJK, fontsize=13.5, rotation=90, ha="center", va="center")
ftext(514, 395, "Time (s)", fontsize=13.5, ha="center", va="center")

# ---------------------------------------------------------------- panel c
ax_c = px_axes(90, 438, 942, 574)
ax_c.plot(freq_bins, c_with, color=BLUE, lw=1.5, label=label_with)
ax_c.plot(freq_bins, c_removed, color=RED, lw=1.5, dashes=(2.2, 1.4), label=label_removed)
ax_c.set_xlim(0, 25)
ax_c.set_ylim(0, 400)
ax_c.set_xticks(c_xticks, [str(v) for v in c_xticks])
ax_c.set_yticks(c_yticks, [str(v) for v in c_yticks])
style_axes(ax_c)

ax_c.add_patch(Ellipse((7.99, 218), 0.70, 335, fill=False, ec="#444444", lw=0.9, clip_on=False))
ax_c.plot([8.27, 9.37], [360, 310], color="#444444", lw=0.8)
ax_c.text(9.8, 304, "DF", ha="center", va="center", fontsize=11.5, fontweight="bold")
add_legend(ax_c)

ftext(521, 425, "c", fontsize=19, fontweight="bold", ha="center", va="center")
ftext(43, 503, "Amplitude", fontsize=13.5, rotation=90, ha="center", va="center")
ftext(512, 605, "Frequency (Hz)", fontsize=13.5, ha="center", va="center")

# ---------------------------------------------------------------- frame
ov = fig.add_axes([0, 0, 1, 1], zorder=-5)
ov.set_xlim(0, W)
ov.set_ylim(H, 0)
ov.axis("off")
ov.add_patch(FancyBboxPatch((10.5, 12), 1200, 1200, boxstyle="round,pad=0,rounding_size=12",
                            fill=False, ec="#333333", lw=1.1, clip_on=False))

# ---------------------------------------------------------------- caption
def pick_caption_fonts():
    """Prefer a narrow sans face for the caption; fall back to a regular sans."""
    regular, bold = None, None
    files = [f.fname for f in font_manager.fontManager.ttflist]
    narrow = [fn for fn in files
              if any(k in fn.lower() for k in ("narrow", "condensed"))
              and not any(k in fn.lower() for k in ("serif", "mono", "italic", "oblique"))]
    for fn in sorted(narrow):
        low = fn.lower()
        if "bold" in low:
            bold = bold or fn
        elif not any(k in low for k in ("light", "thin", "black", "medium", "semi", "extra")):
            regular = regular or fn
    if regular:
        return (lambda s: FontProperties(fname=regular, size=s),
                lambda s: FontProperties(fname=bold, size=s) if bold
                else FontProperties(fname=regular, size=s, weight="bold"))
    names = {f.name for f in font_manager.fontManager.ttflist}
    fam = next((n for n in ["Open Sans", "Noto Sans", "Lato", "DejaVu Sans"] if n in names), "DejaVu Sans")
    return (lambda s: FontProperties(family=fam, size=s),
            lambda s: FontProperties(family=fam, size=s, weight="bold"))


cap_regular, cap_bold = pick_caption_fonts()
CAP_COLOR = "#231f20"
caption_lines = [
    [("Fig. 12", True), ("  Whether removing ventricular artifact can affect the DF result in epicardial AF signal. ", False),
     ("a", True), (" Ventricular", False)],
    [("signal from the apex of heart, 4 of 10 beats were marked out with ellipses. ", False),
     ("b", True), (" Signal with ventricular artifacts", False)],
    [("and signal without ventricular artifacts (removed by adaptive filter). ", False),
     ("c", True), (" Spectrum and DF", False)],
]
caption_right = [922, 923, None]
renderer = fig.canvas.get_renderer()


def advance(s, size, bold):
    fp = (cap_bold if bold else cap_regular)(size)
    t1 = fig.text(0, 0, s + "|", fontproperties=fp)
    t2 = fig.text(0, 0, "|", fontproperties=fp)
    w = t1.get_window_extent(renderer).width - t2.get_window_extent(renderer).width
    t1.remove()
    t2.remove()
    return w


base = 10.0
x0 = 19.0
sizes = []
for pieces, right in zip(caption_lines, caption_right):
    if right is not None:
        width = sum(advance(s, base, b) for s, b in pieces)
        sizes.append(base * (right - x0) / width)
cap_size = min(sizes)
for y, pieces in zip([639, 663.5, 688], caption_lines):
    x = x0
    for s, b in pieces:
        fp = (cap_bold if b else cap_regular)(cap_size)
        ftext(x, y, s, fontproperties=fp, color=CAP_COLOR, ha="left", va="baseline")
        x += advance(s, cap_size, b)

fig.savefig("out.png", dpi=100)
